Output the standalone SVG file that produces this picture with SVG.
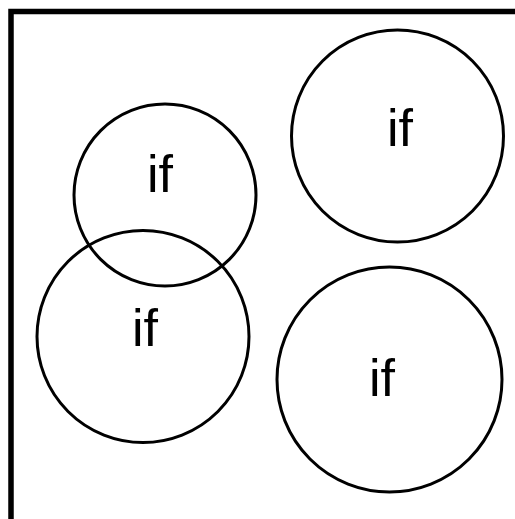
<svg xmlns="http://www.w3.org/2000/svg" width="515" height="519" viewBox="0 0 515 519">
<style>
.n circle{fill:none;stroke:#000;stroke-width:3}
.n text{font-family:"Liberation Sans",Arial,sans-serif;font-size:52px;text-anchor:middle;fill:#000}
</style>
<rect x="0" y="0" width="515" height="519" fill="#fff"/>
<rect x="11" y="11.5" width="520" height="520" fill="none" stroke="#000" stroke-width="5.5"/>
<g id="node1" class="n"><circle cx="165" cy="195" r="91"/><text x="160" y="192">if</text></g>
<g id="node2" class="n"><circle cx="143" cy="336.5" r="106"/><text x="145" y="346">if</text></g>
<g id="node3" class="n"><circle cx="397.5" cy="136" r="106"/><text x="400" y="145.5">if</text></g>
<g id="node4" class="n"><circle cx="389.5" cy="379.5" r="112.5"/><text x="382" y="396">if</text></g>
<g id="connectors"/>
</svg>
